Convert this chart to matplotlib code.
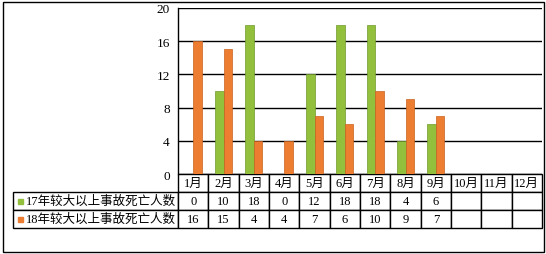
import numpy as np
import matplotlib.pyplot as plt
from matplotlib.patches import Rectangle

plt.rcParams['font.family'] = ['Liberation Serif', 'Noto Sans CJK SC']

# datos
months = ['1月', '2月', '3月', '4月', '5月', '6月', '7月', '8月', '9月', '10月', '11月', '12月']
deaths_2017 = [0, 10, 18, 0, 12, 18, 18, 4, 6]
deaths_2018 = [16, 15, 4, 4, 7, 6, 10, 9, 7]
label_2017 = '17年较大以上事故死亡人数'
label_2018 = '18年较大以上事故死亡人数'
yticks = [0, 4, 8, 12, 16, 20]

green = '#92c03c'
orange = '#ed7d31'

fig = plt.figure(figsize=(5.46, 2.55), dpi=100)
ax = fig.add_axes([178 / 546, 80 / 255, 364 / 546, 166 / 255])

x17 = np.arange(1, len(deaths_2017) + 1)
x18 = np.arange(1, len(deaths_2018) + 1)
w = 0.28
ax.bar(x17 - w / 2, deaths_2017, width=w, color=green, edgecolor='#6f9a2c', linewidth=0.5, zorder=3)
ax.bar(x18 + w / 2, deaths_2018, width=w, color=orange, edgecolor='#c9621f', linewidth=0.5, zorder=3)

ax.set_xlim(0.5, len(months) + 0.5)
ax.set_ylim(0, 20)
ax.set_yticks(yticks)
ax.set_xticks([])
ax.tick_params(axis='y', length=0, pad=6, labelsize=9.5)
ax.yaxis.grid(True, color='black', linewidth=1)
ax.set_axisbelow(True)
for s in ['top', 'right', 'bottom']:
    ax.spines[s].set_visible(False)
ax.spines['left'].set_linewidth(1)

# tabla de datos
def fmt(vals):
    return [str(v) for v in vals] + [''] * (len(months) - len(vals))

cell_text = [[''] + months,
             [label_2017] + fmt(deaths_2017),
             [label_2018] + fmt(deaths_2018)]
label_w = 165 / 364
tbl = ax.table(cellText=cell_text, cellLoc='center',
               colWidths=[label_w] + [1 / len(months)] * len(months),
               bbox=[-label_w, -54 / 166, 1 + label_w, 54 / 166])
tbl.auto_set_font_size(False)
tbl.set_fontsize(9)
for (r, c), cell in tbl.get_celld().items():
    cell.set_linewidth(1)
    cell.set_edgecolor('black')
    if c == 0:
        cell.set_text_props(ha='left')
        cell.PAD = 0.08
if (0, 0) in tbl.get_celld():
    tbl[0, 0].visible_edges = ''

# marcadores de leyenda
for row, col in [(1, green), (2, orange)]:
    yc = (175 - (193 + 18 * (row - 1) + 9)) / 166
    ax.add_patch(Rectangle(((17.5 - 178) / 364, yc - 2.5 / 166), 5 / 364, 5 / 166,
                           transform=ax.transAxes, color=col, clip_on=False))

# borde exterior
fig.patches.append(Rectangle((3 / 546, 2 / 255), 541 / 546, 250 / 255, transform=fig.transFigure,
                             fill=False, edgecolor='black', linewidth=1))

plt.savefig('out.png', dpi=100)
